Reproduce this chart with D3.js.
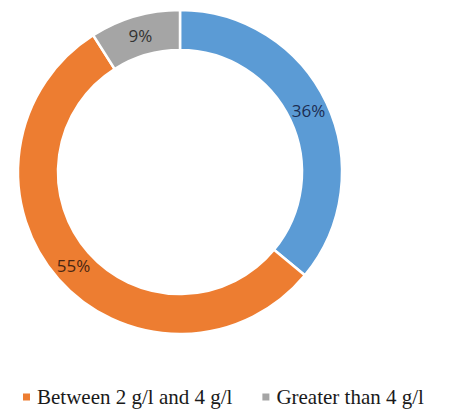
<!DOCTYPE html>
<html>
<head>
<meta charset="utf-8">
<script src="https://cdn.jsdelivr.net/npm/d3@7"></script>
<style>
  body { margin: 0; background: #fff; }
  svg { display: block; }
</style>
</head>
<body>
<svg width="451" height="410"></svg>
<script>
// share of samples per glucose class
var categories = ["Less than 2 g/l", "Between 2 g/l and 4 g/l", "Greater than 4 g/l"];
var shares = [36, 55, 9];
var sliceColors = ["#5b9bd5", "#ed7d31", "#a5a5a5"];
var labelColors = ["#1c2d52", "#4a2612", "#333333"];

var data = categories.map(function(c, i) {
    return { name: c, value: shares[i], color: sliceColors[i], labelColor: labelColors[i] };
});

var svg = d3.select("svg");
var cx = 180, cy = 172, outerR = 162, innerR = 122;

var pie = d3.pie()
    .value(function(d) { return d.value; })
    .sort(null);

var arc = d3.arc()
    .innerRadius(innerR)
    .outerRadius(outerR);

var ring = svg.append("g")
    .attr("transform", "translate(" + cx + "," + cy + ")");

var slices = pie(data);

ring.selectAll("path")
    .data(slices)
    .enter()
    .append("path")
    .attr("d", arc)
    .attr("fill", function(d) { return d.data.color; })
    .attr("stroke", "#fff")
    .attr("stroke-width", 2.5);

ring.selectAll("text")
    .data(slices)
    .enter()
    .append("text")
    .attr("transform", function(d) { return "translate(" + arc.centroid(d) + ")"; })
    .attr("dy", "0.35em")
    .style("text-anchor", "middle")
    .style("font-family", "'Open Sans', sans-serif")
    .style("font-size", "17px")
    .style("fill", function(d) { return d.data.labelColor; })
    .text(function(d) { return d.data.value + "%"; });

// legend: the original picture is cropped, only the last two entries show
var legend = svg.append("g");
var legendY = 397, fontSize = 21, gap = 30, textOffset = 14;

var items = legend.selectAll("g.item")
    .data(data.slice(1))
    .enter()
    .append("g")
    .attr("class", "item");

items.append("rect")
    .attr("width", 7)
    .attr("height", 7)
    .attr("y", legendY - 3.5)
    .attr("fill", function(d) { return d.color; });

items.append("text")
    .attr("x", textOffset)
    .attr("y", legendY)
    .attr("dy", "0.33em")
    .style("font-family", "'Liberation Serif', 'Times New Roman', serif")
    .style("font-size", fontSize + "px")
    .style("fill", "#1a1a1a")
    .text(function(d) { return d.name; });

var xs = [], acc = 23;
items.each(function() {
    xs.push(acc);
    acc += textOffset + this.querySelector("text").getComputedTextLength() + gap;
});
items.attr("transform", function(d, i) { return "translate(" + xs[i] + ",0)"; });
</script>
</body>
</html>
